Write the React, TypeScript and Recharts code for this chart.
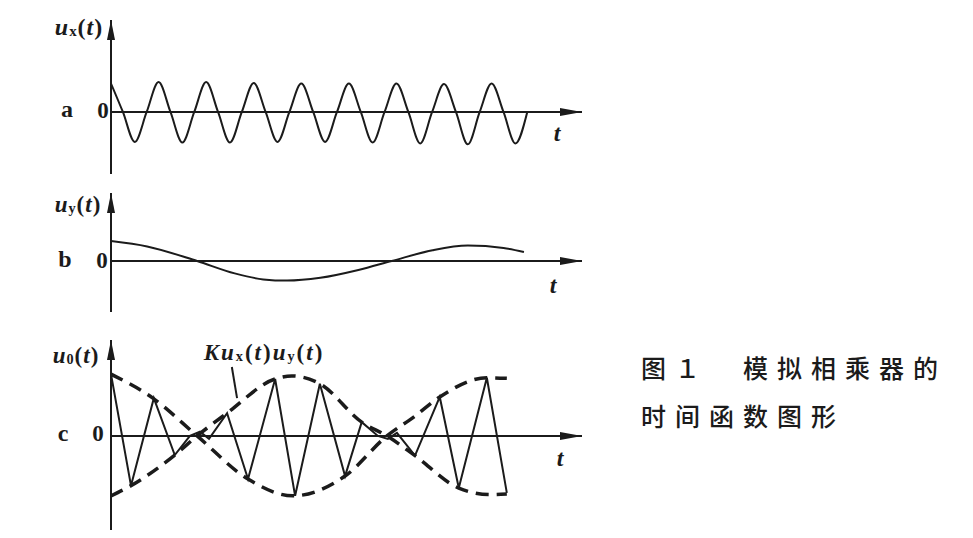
import React from 'react';
import { LineChart, Line, XAxis, YAxis, ReferenceLine, ReferenceDot } from 'recharts';

// time axis in periods of ux(t); 0 is the vertical axis
const T_MAX = 9.9;

// a: ux(t), read at quarter periods
const uxTime = [
  0, 0.25, 0.5, 0.75, 1, 1.25, 1.5, 1.75, 2, 2.25, 2.5, 2.75, 3, 3.25, 3.5, 3.75, 4, 4.25,
  4.5, 4.75, 5, 5.25, 5.5, 5.75, 6, 6.25, 6.5, 6.75, 7, 7.25, 7.5, 7.75, 8, 8.25, 8.5, 8.75,
];
const uxValue = [
  0.95, 0, -1.0, 0, 1.0, 0, -1.02, 0, 1.0, 0, -1.02, 0, 0.97, 0, -1.0, 0, 0.95, 0,
  -1.0, 0, 0.95, 0, -1.02, 0, 0.95, 0, -1.05, 0, 0.93, 0, -1.08, 0, 0.95, 0, -1.05, 0,
];

// b: uy(t)
const uyTime = [0, 0.76, 1.81, 2.6, 3.2, 3.7, 4.4, 5.2, 5.9, 6.76, 7.5, 8.25, 8.68];
const uyValue = [1.0, 0.73, 0, -0.62, -0.92, -0.98, -0.84, -0.45, 0, 0.54, 0.77, 0.65, 0.45];

// c: u0(t) = K ux(t) uy(t), turning points
const u0Time = [
  0, 0.42, 0.9, 1.34, 1.66, 1.87, 2.06, 2.44, 2.88, 3.45, 3.87, 4.39, 4.92, 5.27, 5.61,
  5.82, 6.01, 6.39, 6.91, 7.31, 7.9, 8.32,
];
const u0Value = [
  1.03, -0.83, 0.63, -0.32, 0, 0.07, -0.05, 0.38, -0.72, 0.95, -1.0, 0.87, -0.67, 0.23, 0,
  -0.05, 0.05, -0.33, 0.65, -0.87, 0.97, -0.95,
];

// c: dashed envelopes +-K uy(t)
const envATime = [0, 0.88, 1.81, 2.88, 3.82, 4.92, 5.8, 6.39, 6.91, 7.9, 8.32];
const envAValue = [1.03, 0.63, 0, -0.72, -1.0, -0.67, 0, 0.33, 0.65, 0.97, 0.96];
const envBTime = [0, 0.42, 1.34, 1.81, 2.44, 3.45, 3.8, 4.39, 5.27, 5.8, 6.39, 7.31, 7.98, 8.32];
const envBValue = [-1.0, -0.83, -0.32, 0, 0.38, 0.95, 1.0, 0.87, 0.23, 0, -0.33, -0.87, -0.98, -0.97];

const zip = (ts: number[], vs: number[]) => ts.map((t, i) => ({ t, v: vs[i] }));

const INK = '#1b1b1b';
const SERIF = '"Liberation Serif", "DejaVu Serif", serif';

const RightArrow = (p: any) => (
  <polygon points={`${p.cx},${p.cy} ${p.cx - 22},${p.cy - 4} ${p.cx - 22},${p.cy + 4}`} fill={INK} />
);
const UpArrow = (p: any) => (
  <polygon points={`${p.cx},${p.cy} ${p.cx - 4},${p.cy + 20} ${p.cx + 4},${p.cy + 20}`} fill={INK} />
);

const M = 10;

const Panel = ({ left, top, plotH, domain, children }: any) => (
  <div style={{ position: 'absolute', left: left - M, top: top - M }}>
    <LineChart width={471 + 2 * M} height={plotH + 2 * M} margin={{ top: M, right: M, bottom: M, left: M }}>
      <XAxis dataKey="t" type="number" domain={[0, T_MAX]} allowDataOverflow hide />
      <YAxis type="number" domain={domain} allowDataOverflow hide />
      <ReferenceLine x={0} stroke={INK} strokeWidth={2} ifOverflow="visible" />
      <ReferenceLine y={0} stroke={INK} strokeWidth={2} ifOverflow="visible" />
      <ReferenceDot x={T_MAX} y={0} r={1} shape={RightArrow} ifOverflow="visible" />
      <ReferenceDot x={0} y={domain[1]} r={1} shape={UpArrow} ifOverflow="visible" />
      {children}
    </LineChart>
  </div>
);

const Lbl = ({ x, y, size = 22, italic = false, spacing = 0, children }: any) => (
  <div
    style={{
      position: 'absolute',
      left: x,
      top: y,
      transform: 'translate(-50%, -50%)',
      fontFamily: SERIF,
      fontWeight: 'bold',
      fontStyle: italic ? 'italic' : 'normal',
      fontSize: size,
      letterSpacing: spacing,
      color: INK,
      whiteSpace: 'nowrap',
      lineHeight: 1,
    }}
  >
    {children}
  </div>
);

const Sub = ({ children }: any) => (
  <span style={{ fontSize: '0.62em', fontStyle: 'normal', verticalAlign: '-0.12em' }}>{children}</span>
);
const I = ({ children }: any) => <span style={{ fontStyle: 'italic' }}>{children}</span>;

const Fn = ({ s }: { s: string }) => (
  <>
    <I>u</I>
    <Sub>{s}</Sub>(<I>t</I>)
  </>
);

export default function App() {
  return (
    <div style={{ position: 'absolute', left: 0, top: 0, width: 973, height: 538, background: '#fff', overflow: 'hidden' }}>
      <Panel left={111} top={20} plotH={154} domain={[-2.07, 3.07]}>
        <Line data={zip(uxTime, uxValue)} dataKey="v" type="monotone" stroke={INK} strokeWidth={2} dot={false} isAnimationActive={false} />
      </Panel>
      <Panel left={111} top={193} plotH={119} domain={[-2.55, 3.4]}>
        <Line data={zip(uyTime, uyValue)} dataKey="v" type="monotone" stroke={INK} strokeWidth={2} dot={false} isAnimationActive={false} />
      </Panel>
      <Panel left={111} top={340} plotH={190} domain={[-1.57, 1.6]}>
        <Line data={zip(envATime, envAValue)} dataKey="v" type="monotone" stroke={INK} strokeWidth={3.5} strokeDasharray="13 8" dot={false} isAnimationActive={false} />
        <Line data={zip(envBTime, envBValue)} dataKey="v" type="monotone" stroke={INK} strokeWidth={3.5} strokeDasharray="13 8" dot={false} isAnimationActive={false} />
        <Line data={zip(u0Time, u0Value)} dataKey="v" type="linear" stroke={INK} strokeWidth={2} dot={false} isAnimationActive={false} />
        <ReferenceLine segment={[{ x: 2.54, y: 1.15 }, { x: 2.65, y: 0.63 }]} stroke={INK} strokeWidth={2} ifOverflow="visible" />
      </Panel>

      <Lbl x={79} y={27} size={24} spacing={1}><Fn s="x" /></Lbl>
      <Lbl x={67} y={109} size={24}>a</Lbl>
      <Lbl x={103} y={110} size={23}>0</Lbl>
      <Lbl x={557} y={133} size={24} italic>t</Lbl>

      <Lbl x={78} y={204} size={23} spacing={1}><Fn s="y" /></Lbl>
      <Lbl x={65} y={259} size={24}>b</Lbl>
      <Lbl x={102} y={260} size={23}>0</Lbl>
      <Lbl x={553} y={285} size={24} italic>t</Lbl>

      <Lbl x={76} y={355} size={23} spacing={1}><Fn s="0" /></Lbl>
      <Lbl x={63} y={433} size={24}>c</Lbl>
      <Lbl x={98} y={433} size={23}>0</Lbl>
      <Lbl x={560} y={458} size={24} italic>t</Lbl>

      <Lbl x={264} y={352} size={23} spacing={2}>
        <I>K</I>
        <Fn s="x" />
        <Fn s="y" />
      </Lbl>

      <div
        style={{
          position: 'absolute',
          left: 641,
          top: 343,
          fontFamily: '"Noto Sans CJK SC", sans-serif',
          fontWeight: 500,
          fontSize: 25,
          letterSpacing: 9,
          lineHeight: '48px',
          color: INK,
          whiteSpace: 'pre',
        }}
      >
        {'图１　模拟相乘器的\n时间函数图形'}
      </div>
    </div>
  );
}
